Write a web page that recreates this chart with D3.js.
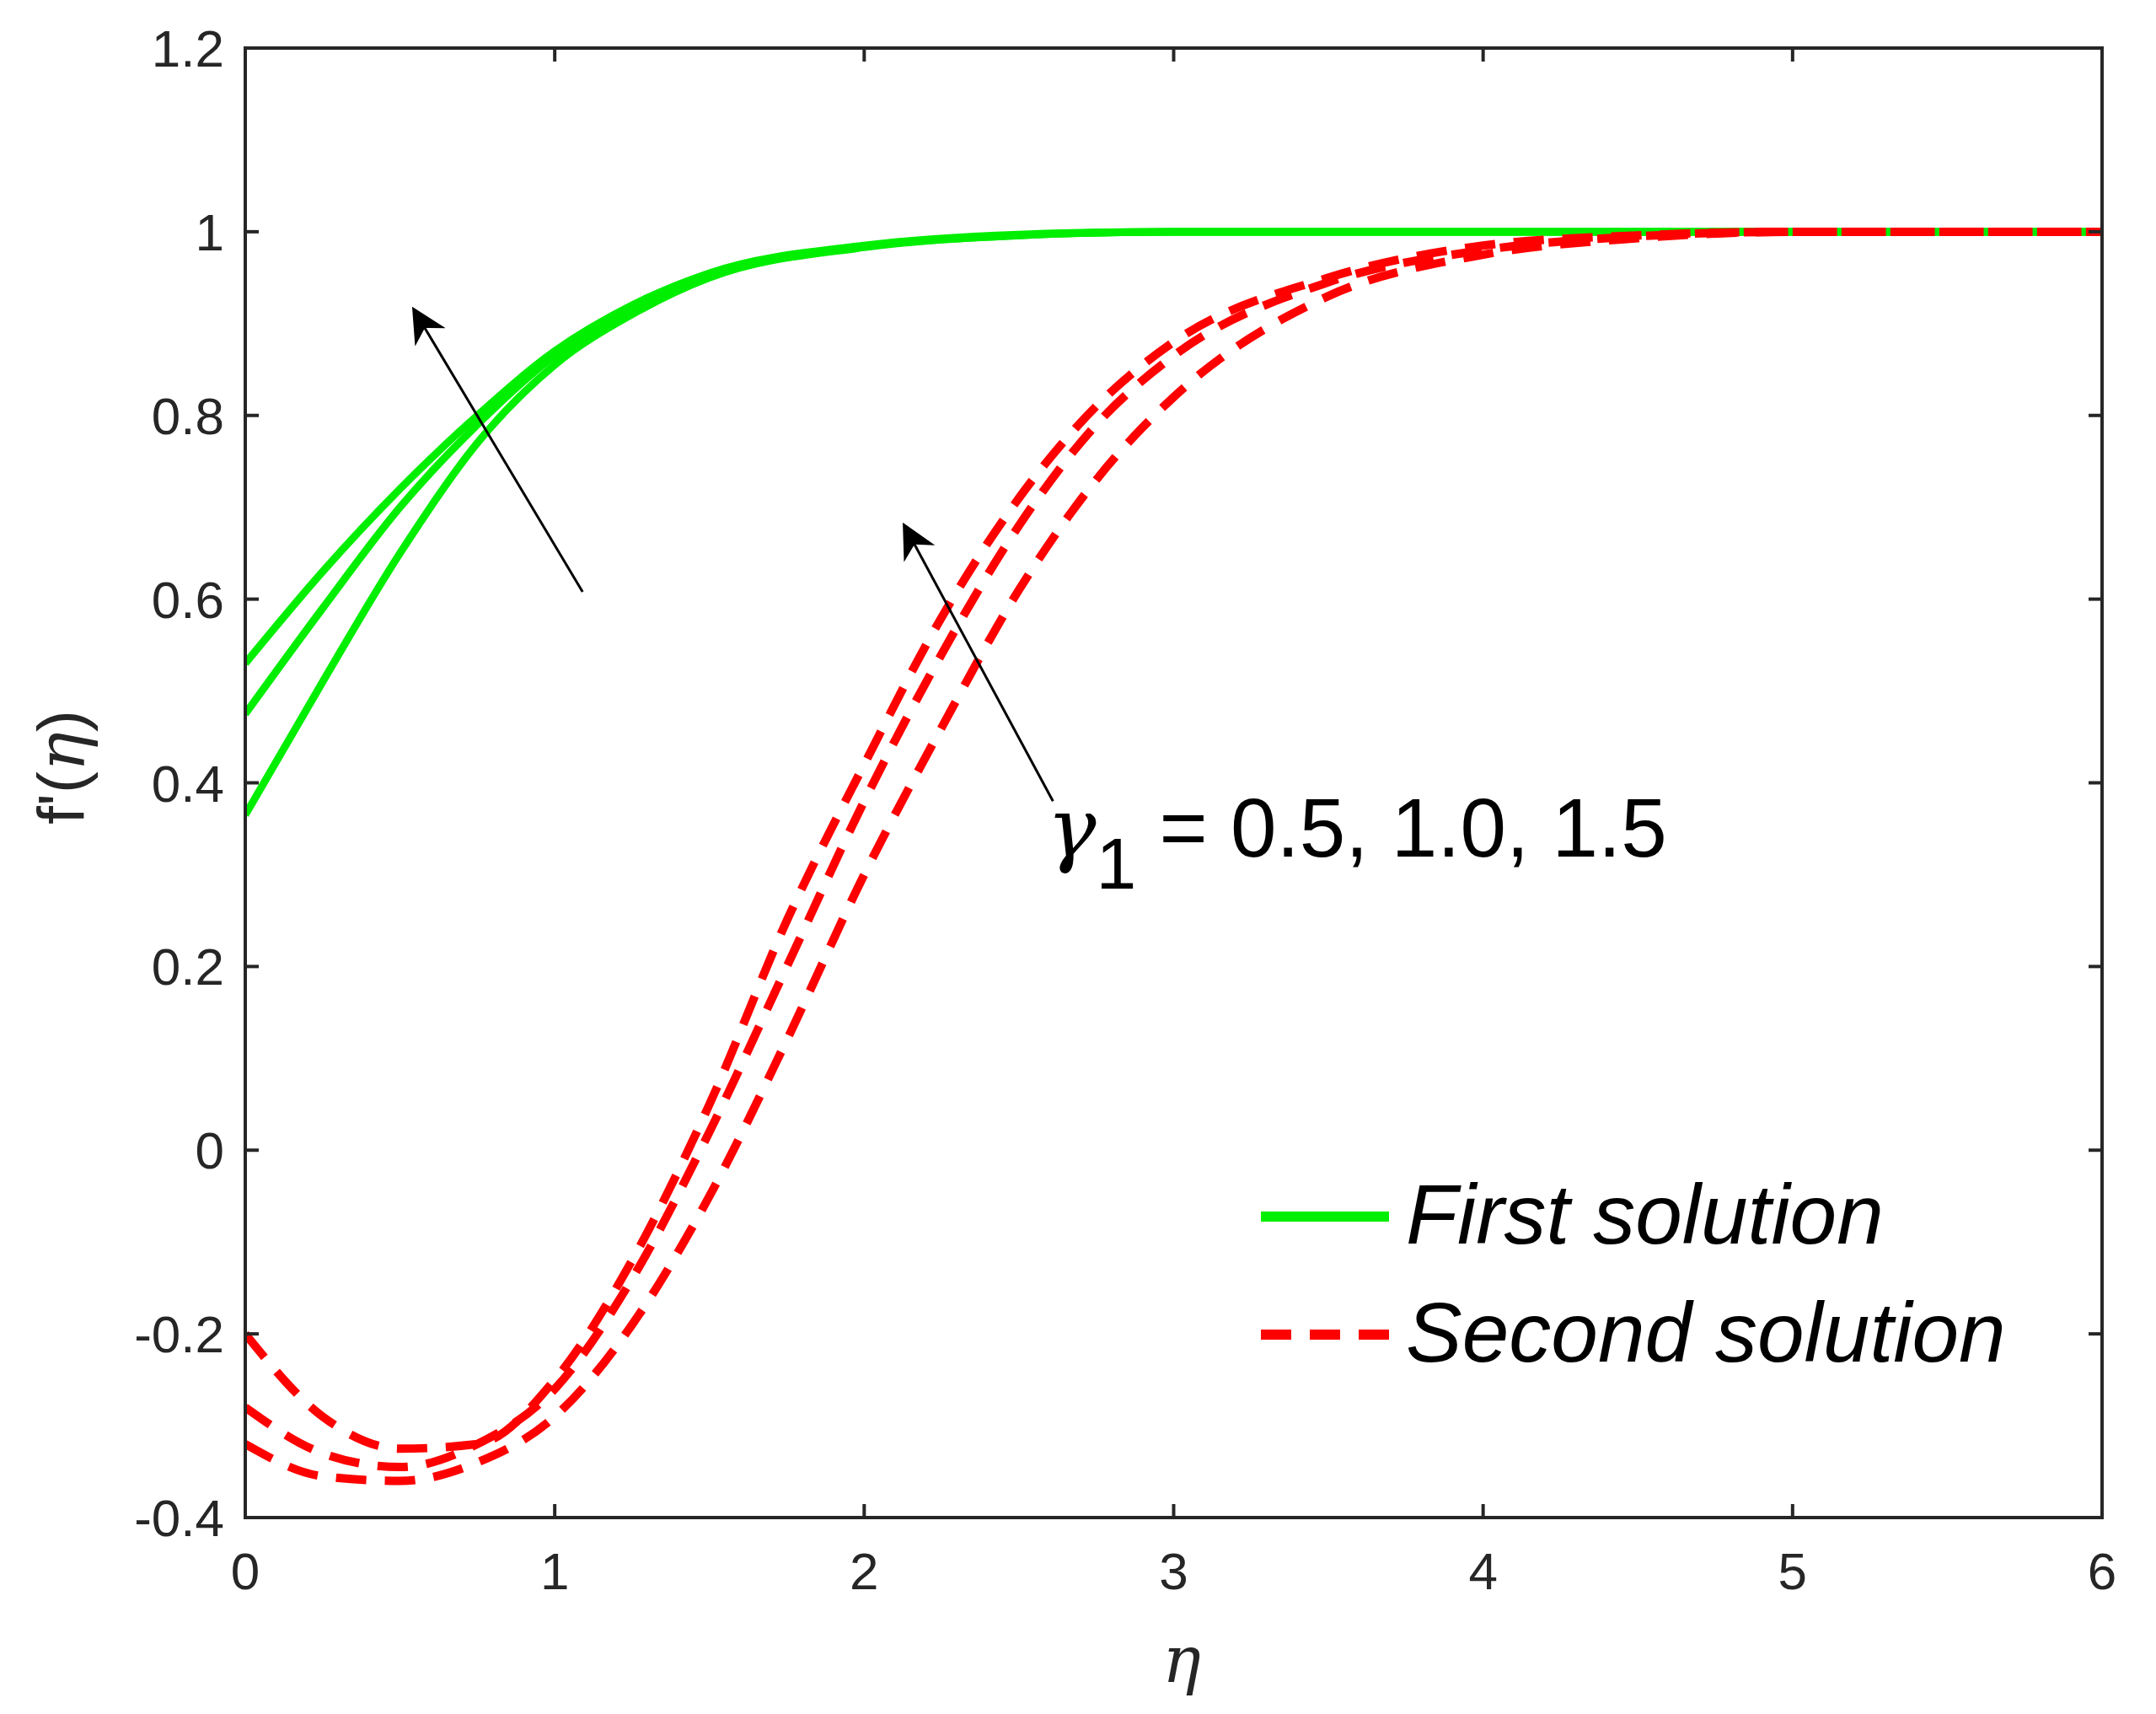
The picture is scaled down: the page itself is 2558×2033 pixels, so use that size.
<!DOCTYPE html><html><head><meta charset="utf-8"><script src="https://cdn.jsdelivr.net/npm/d3@7"></script>
<style>body{margin:0;background:#fff}</style></head><body><svg id="c" width="2558" height="2033"></svg>
<script>
const xTicks=[0,1,2,3,4,5,6];
const yTicks=[-0.4,-0.2,0,0.2,0.4,0.6,0.8,1,1.2];
const green1=[[0,.53],[.25,.63],[.5,.72],[.75,.80],[1,.87],[1.25,.92],[1.5,.955],[2,.985],[2.5,.997],[3,1],[6,1]];
const green2=[[0,.475],[.25,.59],[.5,.70],[.75,.79],[1,.865],[1.25,.915],[1.5,.953],[2,.984],[2.5,.996],[3,1],[6,1]];
const green3=[[0,.365],[.25,.51],[.5,.65],[.75,.77],[1,.855],[1.25,.91],[1.5,.95],[2,.983],[2.5,.996],[3,1],[6,1]];
const red1=[[0,-.2],[.25,-.29],[.5,-.325],[.75,-.32],[1,-.25],[1.25,-.12],[1.5,.05],[1.75,.25],[2,.42],[2.25,.58],[2.5,.71],[2.75,.81],[3,.88],[3.5,.95],[4,.985],[4.5,.996],[5,1],[6,1]];
const red2=[[0,-.28],[.25,-.33],[.5,-.345],[.75,-.32],[1,-.26],[1.25,-.14],[1.5,.02],[1.75,.2],[2,.38],[2.25,.54],[2.5,.68],[2.75,.79],[3,.865],[3.5,.945],[4,.98],[4.5,.995],[5,1],[6,1]];
const red3=[[0,-.32],[.25,-.355],[.5,-.36],[.75,-.34],[1,-.29],[1.25,-.19],[1.5,-.05],[1.75,.12],[2,.3],[2.25,.46],[2.5,.61],[2.75,.73],[3,.82],[3.5,.93],[4,.975],[4.5,.993],[5,1],[6,1]];
const arrows=[[[1.09,0.608],[0.545,0.915]],[[2.61,0.38],[2.13,0.68]]];

const L=291,R=2494,T=57,B=1800;
const svg=d3.select("#c");
const x=d3.scaleLinear().domain([0,6]).range([L,R]);
const y=d3.scaleLinear().domain([-0.4,1.2]).range([B,T]);
const line=d3.line().x(d=>x(d[0])).y(d=>y(d[1])).curve(d3.curveMonotoneX);
const defs=svg.append("defs");
defs.append("clipPath").attr("id","cp").append("rect").attr("x",L).attr("y",T).attr("width",R-L).attr("height",B-T);
defs.append("marker").attr("id","ah").attr("viewBox","0 0 10 10").attr("refX",9).attr("refY",5)
 .attr("markerWidth",42).attr("markerHeight",42).attr("markerUnits","userSpaceOnUse").attr("orient","auto")
 .append("path").attr("d","M0,0L10,5L0,10L3,5Z").attr("fill","#000");
const g=svg.append("g").attr("clip-path","url(#cp)");
[green1,green2,green3].forEach(d=>g.append("path").attr("d",line(d)).attr("fill","none").attr("stroke","#00ee00").attr("stroke-width",9));
[red1,red2,red3].forEach(d=>g.append("path").attr("d",line(d)).attr("fill","none").attr("stroke","#ff0000").attr("stroke-width",10).attr("stroke-dasharray","36,22"));
const font="Liberation Sans, Arial, sans-serif";
const tl=16;
const ax=svg.append("g").attr("stroke","#262626").attr("stroke-width",4);
ax.append("rect").attr("x",L).attr("y",T).attr("width",R-L).attr("height",B-T).attr("fill","none");
xTicks.forEach(t=>{ax.append("line").attr("x1",x(t)).attr("x2",x(t)).attr("y1",B).attr("y2",B-tl);ax.append("line").attr("x1",x(t)).attr("x2",x(t)).attr("y1",T).attr("y2",T+tl);});
yTicks.forEach(t=>{ax.append("line").attr("y1",y(t)).attr("y2",y(t)).attr("x1",L).attr("x2",L+tl);ax.append("line").attr("y1",y(t)).attr("y2",y(t)).attr("x1",R).attr("x2",R-tl);});
svg.append("g").selectAll("text").data(xTicks).join("text").attr("x",d=>x(d)).attr("y",B+85).attr("text-anchor","middle")
 .attr("font-family",font).attr("font-size",62).attr("fill","#262626").text(d=>d);
svg.append("g").selectAll("text").data(yTicks).join("text").attr("x",L-25).attr("y",d=>y(d)+22).attr("text-anchor","end")
 .attr("font-family",font).attr("font-size",62).attr("fill","#262626").text(d=>String(+d.toFixed(1)));
svg.append("text").attr("x",1402).attr("y",1995).attr("text-anchor","middle").attr("font-family","DejaVu Serif, serif").attr("font-style","italic").attr("font-size",76).attr("fill","#262626").text("η");
svg.append("text").attr("transform","translate(100,910) rotate(-90)").attr("text-anchor","middle").attr("font-family",font).attr("font-size",78).attr("fill","#262626")
 .html('f\'(<tspan font-family="DejaVu Serif, serif" font-style="italic">η</tspan>)');
arrows.forEach(a=>svg.append("line").attr("x1",x(a[0][0])).attr("y1",y(a[0][1])).attr("x2",x(a[1][0])).attr("y2",y(a[1][1])).attr("stroke","#000").attr("stroke-width",3).attr("marker-end","url(#ah)"));
svg.append("text").attr("x",x(2.59)).attr("y",y(0.32)).attr("font-family",font).attr("font-size",98).attr("fill","#000")
 .html('<tspan font-family="DejaVu Serif, serif" font-style="italic">γ</tspan><tspan dy="38" font-size="86">1</tspan><tspan dy="-38"> = 0.5, 1.0, 1.5</tspan>');
const lg=[{t:"First solution",c:"#00ee00",d:null,y:1443},{t:"Second solution",c:"#ff0000",d:"36,22",y:1583}];
lg.forEach(l=>{svg.append("line").attr("x1",1496).attr("x2",1648).attr("y1",l.y).attr("y2",l.y).attr("stroke",l.c).attr("stroke-width",12).attr("stroke-dasharray",l.d);
 svg.append("text").attr("x",1668).attr("y",l.y+32).attr("font-family",font).attr("font-style","italic").attr("font-size",100).attr("fill","#000").text(l.t);});
</script></body></html>
